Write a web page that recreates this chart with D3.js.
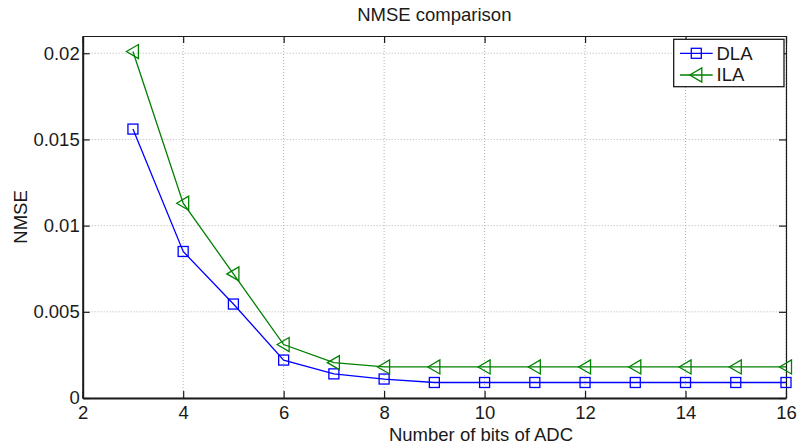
<!DOCTYPE html>
<html>
<head>
<meta charset="utf-8">
<script src="https://cdn.jsdelivr.net/npm/d3@7"></script>
<style>
  html, body { margin: 0; padding: 0; background: #fff; }
  svg text { font-family: "Liberation Sans", Arial, Helvetica, sans-serif; fill: #1a1a1a; }
</style>
</head>
<body>
<svg id="chart" width="797" height="446"></svg>
<script>
// ---- data ----
const bits = [3, 4, 5, 6, 7, 8, 9, 10, 11, 12, 13, 14, 15, 16];
const dla  = [0.0156, 0.0085, 0.00545, 0.0022, 0.0014, 0.0011, 0.0009, 0.0009, 0.0009, 0.0009, 0.0009, 0.0009, 0.0009, 0.0009];
const ila  = [0.0201, 0.0113, 0.0072, 0.0031, 0.00205, 0.0018, 0.0018, 0.0018, 0.0018, 0.0018, 0.0018, 0.0018, 0.0018, 0.0018];
const xTicks = [2, 4, 6, 8, 10, 12, 14, 16];
const yTicks = [0, 0.005, 0.01, 0.015, 0.02];
const yTickLabels = ["0", "0.005", "0.01", "0.015", "0.02"];
const seriesNames = ["DLA", "ILA"];
const seriesColors = ["#0000ff", "#008000"];
const titleText = "NMSE comparison";
const xLabelText = "Number of bits of ADC";
const yLabelText = "NMSE";

// ---- layout ----
const L = 82.7, R = 786, T = 36, B = 398;
const FS = 18.5;
const svg = d3.select("#chart");
const x = d3.scaleLinear().domain([2, 16]).range([L, R]);
const y = d3.scaleLinear().domain([0, 0.021]).range([B, T]);

// grid
const grid = svg.append("g");
grid.selectAll("line.vx").data(xTicks).enter().append("line")
  .attr("x1", d => x(d)).attr("x2", d => x(d)).attr("y1", T).attr("y2", B)
  .attr("stroke", "#b4b4b4").attr("stroke-width", 1).attr("stroke-dasharray", "1,2");
grid.selectAll("line.hy").data(yTicks).enter().append("line")
  .attr("x1", L).attr("x2", R).attr("y1", d => y(d)).attr("y2", d => y(d))
  .attr("stroke", "#b4b4b4").attr("stroke-width", 1).attr("stroke-dasharray", "1,2");

// axes via d3 (inner ticks)
const tickLen = 7;
const xAxisB = d3.axisBottom(x).tickValues(xTicks).tickSizeInner(-tickLen).tickSizeOuter(0).tickPadding(7.5).tickFormat(d3.format("d"));
const xAxisT = d3.axisTop(x).tickValues(xTicks).tickSizeInner(-tickLen).tickSizeOuter(0).tickFormat("");
const yAxisL = d3.axisLeft(y).tickValues(yTicks).tickSizeInner(-tickLen).tickSizeOuter(0).tickPadding(3)
  .tickFormat((d, i) => yTickLabels[i]);
const yAxisR = d3.axisRight(y).tickValues(yTicks).tickSizeInner(-tickLen).tickSizeOuter(0).tickFormat("");

function styleAxis(g, w) {
  g.select(".domain").attr("stroke", "#1a1a1a").attr("stroke-width", w);
  g.selectAll(".tick line").attr("stroke", "#1a1a1a").attr("stroke-width", 1.2);
  g.selectAll(".tick text").attr("font-size", FS).attr("fill", "#1a1a1a")
    .style("font-family", '"Liberation Sans", Arial, sans-serif');
}
svg.append("g").attr("transform", `translate(0,${T})`).call(xAxisT).call(g => styleAxis(g, 1.2));
svg.append("g").attr("transform", `translate(${R},0)`).call(yAxisR).call(g => styleAxis(g, 1.2));
svg.append("g").attr("transform", `translate(0,${B})`).call(xAxisB).call(g => styleAxis(g, 2));
svg.append("g").attr("transform", `translate(${L},0)`).call(yAxisL).call(g => styleAxis(g, 2));

// series
const allSeries = [dla, ila];
const line = d3.line().x((d, i) => x(bits[i])).y(d => y(d));
allSeries.forEach((vals, si) => {
  svg.append("path").datum(vals).attr("d", line)
    .attr("fill", "none").attr("stroke", seriesColors[si]).attr("stroke-width", 1.3);
});

function drawMarker(g, cx, cy, si) {
  if (si === 0) {
    g.append("rect").attr("x", cx - 5).attr("y", cy - 5).attr("width", 10).attr("height", 10)
      .attr("fill", "none").attr("stroke", seriesColors[0]).attr("stroke-width", 1.3);
  } else {
    g.append("path").attr("d", `M${cx - 6.5},${cy} L${cx + 5.5},${cy - 7} L${cx + 5.5},${cy + 7} Z`)
      .attr("fill", "none").attr("stroke", seriesColors[1]).attr("stroke-width", 1.3);
  }
}
allSeries.forEach((vals, si) => {
  const g = svg.append("g");
  vals.forEach((v, i) => drawMarker(g, x(bits[i]), y(v), si));
});

// legend
const lg = svg.append("g");
lg.append("rect").attr("x", 673.7).attr("y", 39.3).attr("width", 110.3).attr("height", 47.4)
  .attr("fill", "#fff").attr("stroke", "#1a1a1a").attr("stroke-width", 1.3);
const legY = [53.3, 75];
seriesNames.forEach((name, si) => {
  lg.append("line").attr("x1", 680).attr("x2", 712.7).attr("y1", legY[si]).attr("y2", legY[si])
    .attr("stroke", seriesColors[si]).attr("stroke-width", 1.3);
  drawMarker(lg, 696.3, legY[si], si);
  lg.append("text").attr("x", 716.5).attr("y", legY[si]).attr("dy", "0.35em")
    .attr("font-size", FS).text(name);
});

// title & labels
svg.append("text").attr("x", (L + R) / 2).attr("y", 20.7).attr("text-anchor", "middle")
  .attr("font-size", FS).text(titleText);
svg.append("text").attr("x", 481).attr("y", 440.5).attr("text-anchor", "middle")
  .attr("font-size", FS).text(xLabelText);
svg.append("text").attr("transform", `translate(26.7,${(T + B) / 2}) rotate(-90)`)
  .attr("text-anchor", "middle").attr("font-size", FS).text(yLabelText);
</script>
</body>
</html>
